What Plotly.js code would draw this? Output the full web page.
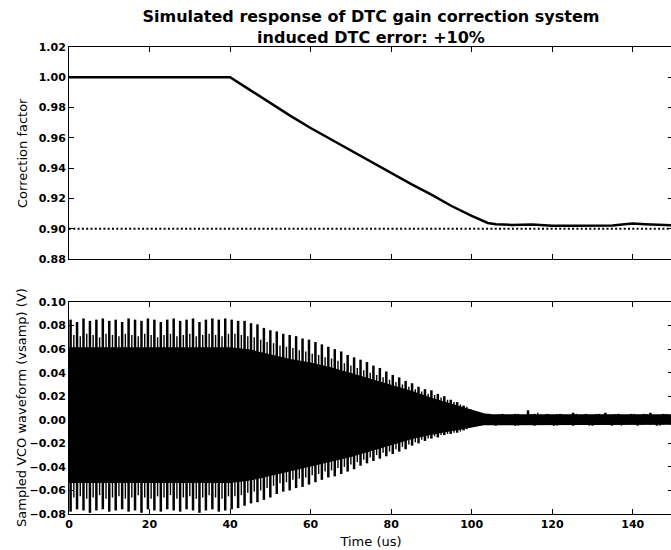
<!DOCTYPE html>
<html>
<head>
<meta charset="utf-8">
<script src="https://cdn.plot.ly/plotly-3.0.1.min.js"></script>
<style>
html,body{margin:0;padding:0;overflow:hidden;background:#fff;}
#chart{width:676px;height:550px;}
</style>
</head>
<body>
<div id="chart"></div>
<script>
// ---- Top panel: correction factor ----
var corrT = [0, 40, 45, 50, 55, 60, 65, 70, 75, 80, 85, 90, 95, 100, 103, 104, 106, 110, 115, 120, 125, 130, 135, 138, 140, 143, 146, 150];
var corrV = [1.000, 1.000, 0.9915, 0.9828, 0.9745, 0.9665, 0.959, 0.9515, 0.944, 0.9368, 0.9295, 0.9225, 0.9150, 0.9085, 0.905, 0.9038, 0.903, 0.9025, 0.9028, 0.902, 0.902, 0.902, 0.9022, 0.903, 0.9035, 0.903, 0.9025, 0.9022];
var targetT = [0, 150];
var targetV = [0.90, 0.90];

// ---- Bottom panel: sampled VCO waveform ----
// dense band edges
var bandT   = [0, 40, 45, 50, 55, 60, 65, 70, 75, 80, 85, 90, 95, 100, 103, 105, 150];
var bandTop = [0.061, 0.061, 0.059, 0.055, 0.051, 0.048, 0.044, 0.039, 0.034, 0.029, 0.024, 0.018, 0.013, 0.008, 0.005, 0.004, 0.004];
var bandBot = [-0.053, -0.053, -0.051, -0.047, -0.043, -0.039, -0.035, -0.031, -0.026, -0.021, -0.016, -0.012, -0.009, -0.006, -0.004, -0.0035, -0.0035];
// beat peaks, one per beat period
var peakStart = 0.4, peakPeriod = 1.6, midOffset = 0.8;
var peakTop = [
 0.085,0.083,0.086,0.084,0.085,0.086,0.084,0.085,0.083,0.086,0.085,0.084,0.086,0.085,0.083,0.085,0.086,0.084,0.085,0.086,0.083,0.085,0.086,0.085,0.086,
 0.085,0.084,0.084,0.082,0.081,0.078,0.076,0.075,0.073,0.072,
 0.071,0.069,0.068,0.066,0.064,0.062,0.060,0.058,0.055,0.053,
 0.051,0.049,0.046,0.044,0.041,0.038,0.036,0.033,0.031,0.028,
 0.026,0.025,0.022,0.020,0.017,0.015,0.012,0.009,0.006,0.005,
 0.005,0.004,0.005,0.004,0.005,0.004,0.008,0.005,0.004,0.005,0.004,0.005,0.004,0.006,0.004,0.005,0.004,0.005,0.006,0.004,0.005,0.004,0.005,0.004,0.005,0.006,0.004,0.005,0.004
];
var peakBot = [
 -0.078,-0.076,-0.077,-0.079,-0.077,-0.076,-0.078,-0.077,-0.076,-0.078,-0.077,-0.079,-0.076,-0.077,-0.078,-0.076,-0.077,-0.078,-0.076,-0.077,-0.079,-0.077,-0.076,-0.078,-0.077,
 -0.076,-0.075,-0.073,-0.071,-0.070,-0.068,-0.066,-0.063,-0.061,-0.060,
 -0.058,-0.057,-0.055,-0.053,-0.051,-0.049,-0.048,-0.046,-0.044,-0.042,
 -0.039,-0.037,-0.035,-0.033,-0.031,-0.029,-0.027,-0.025,-0.022,-0.020,
 -0.018,-0.016,-0.015,-0.013,-0.012,-0.011,-0.009,-0.006,-0.005,-0.004,
 -0.004,-0.005,-0.004,-0.003,-0.005,-0.004,-0.004,-0.005,-0.003,-0.004,-0.005,-0.004,-0.004,-0.005,-0.004,-0.003,-0.005,-0.004,-0.004,-0.005,-0.004,-0.004,-0.003,-0.005,-0.004,-0.004,-0.005,-0.004,-0.004
];
var midTop = [
 0.072,0.071,0.073,0.072,0.070,0.073,0.072,0.071,0.073,0.072,0.071,0.073,0.072,0.070,0.072,0.073,0.071,0.072,0.073,0.071,0.072,0.073,0.072,0.071,0.073,
 0.073,0.072,0.071,0.070,0.068,0.066,0.065,0.063,0.062,0.061,
 0.059,0.058,0.056,0.055,0.053,0.052,0.050,0.048,0.046,0.044,
 0.042,0.040,0.038,0.036,0.034,0.032,0.030,0.028,0.026,0.024,
 0.022,0.021,0.019,0.017,0.015,0.013,0.011,0.008,0.006,0.004,
 0.004,0.005,0.003,0.004,0.005,0.004,0.005,0.006,0.004,0.003,0.005,0.004,0.004,0.005,0.003,0.004,0.005,0.004,0.004,0.005,0.003,0.004,0.005,0.004,0.005,0.004,0.003,0.005,0.004
];
var midBot = [
 -0.066,-0.065,-0.067,-0.066,-0.064,-0.067,-0.066,-0.065,-0.067,-0.066,-0.064,-0.066,-0.067,-0.065,-0.066,-0.064,-0.067,-0.066,-0.065,-0.067,-0.066,-0.064,-0.066,-0.067,-0.065,
 -0.065,-0.064,-0.062,-0.061,-0.060,-0.058,-0.056,-0.054,-0.053,-0.051,
 -0.050,-0.049,-0.047,-0.046,-0.044,-0.043,-0.041,-0.040,-0.038,-0.036,
 -0.034,-0.032,-0.030,-0.028,-0.027,-0.025,-0.023,-0.021,-0.019,-0.017,
 -0.016,-0.014,-0.013,-0.012,-0.011,-0.010,-0.008,-0.005,-0.004,-0.003,
 -0.003,-0.004,-0.003,-0.004,-0.005,-0.003,-0.004,-0.004,-0.003,-0.004,-0.005,-0.003,-0.004,-0.004,-0.003,-0.005,-0.004,-0.003,-0.004,-0.004,-0.005,-0.003,-0.004,-0.004,-0.003,-0.004,-0.005,-0.003,-0.004
];

var xTicks = [0, 20, 40, 60, 80, 100, 120, 140];
var yTopTicks = [0.88, 0.90, 0.92, 0.94, 0.96, 0.98, 1.00, 1.02];
var yBotTicks = [-0.08, -0.06, -0.04, -0.02, 0.00, 0.02, 0.04, 0.06, 0.08, 0.10];

// build band polygon and peak segments from the data arrays
var polyX = bandT.concat(bandT.slice().reverse());
var polyY = bandTop.concat(bandBot.slice().reverse());
var pkX = [], pkY = [], mdX = [], mdY = [];
for (var k = 0; k < peakTop.length; k++) {
  var t = peakStart + k * peakPeriod;
  pkX.push(t, t, null); pkY.push(peakBot[k], peakTop[k], null);
  var tm = t + midOffset;
  if (tm <= 150) { mdX.push(tm, tm, null); mdY.push(midBot[k], midTop[k], null); }
}

var FONT = 'DejaVu Sans, Bitstream Vera Sans, sans-serif';
var data = [
  {x: corrT, y: corrV, xaxis: 'x', yaxis: 'y', mode: 'lines', line: {color: '#000', width: 2.5}, hoverinfo: 'skip'},
  {x: targetT, y: targetV, xaxis: 'x', yaxis: 'y', mode: 'lines', line: {color: '#000', width: 2, dash: '2px,2.3px'}, hoverinfo: 'skip'},
  {x: polyX, y: polyY, xaxis: 'x2', yaxis: 'y2', mode: 'lines', fill: 'toself', fillcolor: '#000', line: {color: '#000', width: 1.5}, hoverinfo: 'skip'},
  {x: mdX, y: mdY, xaxis: 'x2', yaxis: 'y2', mode: 'lines', line: {color: '#000', width: 1.4}, hoverinfo: 'skip'},
  {x: pkX, y: pkY, xaxis: 'x2', yaxis: 'y2', mode: 'lines', line: {color: '#000', width: 2.5}, hoverinfo: 'skip'}
];

function axisBase() {
  return {
    showline: true, linecolor: '#000', linewidth: 1, mirror: 'ticks',
    ticks: 'inside', ticklen: 5, tickwidth: 1, tickcolor: '#000',
    showgrid: false, zeroline: false,
    tickfont: {family: FONT, size: 11, color: '#000', weight: 'bold'}
  };
}
var titleFont = {family: FONT, size: 13, color: '#000'};
var xa = axisBase(); Object.assign(xa, {domain: [0, 1], range: [0, 150], tickvals: xTicks, showticklabels: false, anchor: 'y'});
var xa2 = axisBase(); Object.assign(xa2, {domain: [0, 1], range: [0, 150], tickvals: xTicks, ticktext: xTicks.map(String), anchor: 'y2',
  title: {text: 'Time (us)', font: titleFont, standoff: 6}});
var ya = axisBase(); Object.assign(ya, {domain: [0.546, 1], range: [0.88, 1.02], tickvals: yTopTicks, tickformat: '.2f', anchor: 'x'});
var ya2 = axisBase(); Object.assign(ya2, {domain: [0, 0.454], range: [-0.08, 0.10], tickvals: yBotTicks, tickformat: '.2f', anchor: 'x2'});

var layout = {
  width: 676, height: 550,
  margin: {l: 69, r: 3, t: 47, b: 36},
  paper_bgcolor: '#fff', plot_bgcolor: '#fff',
  showlegend: false,
  title: {text: 'Simulated response of DTC gain correction system<br>induced DTC error: +10%',
    font: {family: FONT, size: 16, color: '#000', weight: 'bold'},
    x: 0.5, xref: 'paper', xanchor: 'center', y: 1 - 22/550, yref: 'container', yanchor: 'top'},
  xaxis: xa, yaxis: ya, xaxis2: xa2, yaxis2: ya2,
  annotations: [
    {text: 'Correction factor', xref: 'paper', yref: 'paper', x: (22 - 69) / 604, y: (0.546 + 1) / 2,
     xanchor: 'center', yanchor: 'middle', textangle: -90, showarrow: false, font: titleFont},
    {text: 'Sampled VCO waveform (vsamp) (V)', xref: 'paper', yref: 'paper', x: (22 - 69) / 604, y: 0.454 / 2,
     xanchor: 'center', yanchor: 'middle', textangle: -90, showarrow: false, font: titleFont}
  ]
};
Plotly.newPlot('chart', data, layout, {staticPlot: true, displayModeBar: false});
</script>
</body>
</html>
